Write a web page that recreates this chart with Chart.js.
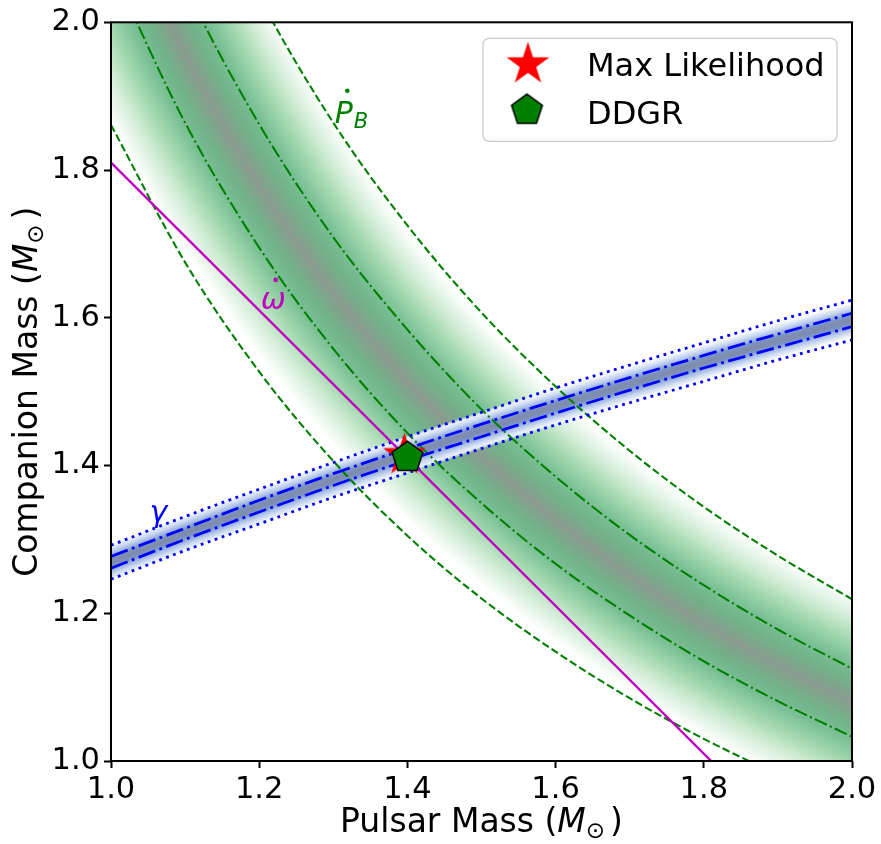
<!DOCTYPE html>
<html lang="en">
<head>
<meta charset="utf-8">
<title>Pulsar and companion mass constraints</title>
<script src="https://cdn.jsdelivr.net/npm/chart.js@4.4.1/dist/chart.umd.min.js"></script>
<style>
  html, body { margin: 0; padding: 0; background: #ffffff; }
  #massChart { display: block; }
</style>
</head>
<body>
<canvas id="massChart" width="881" height="844"></canvas>
<script>
// pulsar masses (M_sun) where the constraint curves are sampled
const pulsarMass = [1.0, 1.1, 1.2, 1.3, 1.4, 1.5, 1.6, 1.7, 1.8, 1.9, 2.0];

// orbital decay (Pdot_B): companion mass on the best curve, +-1 sigma and +-3 sigma
const pbdotBest = [2.181, 1.956, 1.779, 1.633, 1.513, 1.412, 1.326, 1.251, 1.186, 1.129, 1.079];
const pbdotHi1  = [2.289, 2.050, 1.862, 1.709, 1.584, 1.476, 1.385, 1.306, 1.238, 1.178, 1.125];
const pbdotLo1  = [2.075, 1.864, 1.695, 1.558, 1.444, 1.349, 1.267, 1.197, 1.135, 1.081, 1.033];
const pbdotHi3  = [2.510, 2.245, 2.035, 1.864, 1.725, 1.607, 1.507, 1.420, 1.344, 1.278, 1.219];
const pbdotLo3  = [1.861, 1.675, 1.527, 1.406, 1.305, 1.220, 1.148, 1.085, 1.030, 0.982, 0.939];

// Einstein delay (gamma): same layout
const gammaBest = [1.269, 1.308, 1.345, 1.381, 1.415, 1.448, 1.480, 1.510, 1.540, 1.569, 1.597];
const gammaHi1  = [1.277, 1.315, 1.353, 1.389, 1.423, 1.456, 1.488, 1.519, 1.549, 1.578, 1.606];
const gammaLo1  = [1.261, 1.300, 1.337, 1.373, 1.407, 1.439, 1.471, 1.502, 1.532, 1.560, 1.588];
const gammaHi3  = [1.292, 1.331, 1.368, 1.404, 1.439, 1.472, 1.505, 1.536, 1.566, 1.596, 1.624];
const gammaLo3  = [1.246, 1.285, 1.321, 1.357, 1.390, 1.423, 1.455, 1.485, 1.514, 1.543, 1.570];

// periastron advance (omega-dot): straight total-mass line
const omdotPulsar = [1.0, 1.81];
const omdotComp   = [1.81, 1.0];

// fitted masses
const maxLikePulsar = [1.396];
const maxLikeComp   = [1.414];
const ddgrPulsar    = [1.400];
const ddgrComp      = [1.411];

const massTicks = [1.0, 1.2, 1.4, 1.6, 1.8, 2.0];

const GREEN = '#008000';
const BLUE = '#0000ff';
const MAGENTA = '#bf00bf';
const FONT = '"DejaVu Sans"';

function pts(xs, ys) {
  return xs.map((m, i) => ({ x: m, y: ys[i] }));
}

// marker images (filled star, pentagon with black edge)
function makeStar(R, color) {
  const c = document.createElement('canvas');
  c.width = c.height = Math.ceil(2 * R + 4);
  const g = c.getContext('2d');
  g.translate(c.width / 2, c.height / 2);
  g.beginPath();
  for (let i = 0; i < 10; i++) {
    const r = i % 2 ? R * 0.382 : R;
    const a = -Math.PI / 2 + i * Math.PI / 5;
    g.lineTo(r * Math.cos(a), r * Math.sin(a));
  }
  g.closePath();
  g.fillStyle = color;
  g.fill();
  return c;
}

function makePentagon(R, color) {
  const c = document.createElement('canvas');
  c.width = c.height = Math.ceil(2 * R + 6);
  const g = c.getContext('2d');
  g.translate(c.width / 2, c.height / 2);
  g.beginPath();
  for (let i = 0; i < 5; i++) {
    const a = -Math.PI / 2 + i * 2 * Math.PI / 5;
    g.lineTo(R * Math.cos(a), R * Math.sin(a));
  }
  g.closePath();
  g.fillStyle = color;
  g.fill();
  g.lineWidth = 1.5;
  g.strokeStyle = '#000';
  g.lineJoin = 'miter';
  g.stroke();
  return c;
}

const starImg = makeStar(22.5, '#ff0000');
const pentImg = makePentagon(16.2, GREEN);

// colour profile across a likelihood band, d = distance from the best curve in sigma
function profileColour(stops, d) {
  for (let i = 1; i < stops.length; i++) {
    if (d <= stops[i][0]) {
      const [d0, c0] = stops[i - 1];
      const [d1, c1] = stops[i];
      const t = (d - d0) / (d1 - d0);
      const c = c0.map((v, j) => v + (c1[j] - v) * t);
      return 'rgba(' + Math.round(c[0]) + ',' + Math.round(c[1]) + ',' + Math.round(c[2]) + ',' + c[3].toFixed(3) + ')';
    }
  }
  const c = stops[stops.length - 1][1];
  return 'rgba(' + c[0] + ',' + c[1] + ',' + c[2] + ',' + c[3] + ')';
}

const greenStops = [
  [0.0,  [140, 154, 143, 1]],
  [0.25, [126, 166, 139, 1]],
  [0.6,  [114, 179, 139, 1]],
  [1.1,  [122, 192, 148, 1]],
  [1.7,  [163, 216, 175, 1]],
  [2.3,  [210, 237, 214, 1]],
  [3.0,  [255, 255, 255, 1]]
];
const blueStops = [
  [0.0, [128, 138, 168, 1]],
  [0.7, [124, 148, 196, 1]],
  [1.3, [160, 182, 226, 1]],
  [2.0, [204, 218, 244, 1]],
  [2.6, [234, 240, 251, 0.9]],
  [3.0, [255, 255, 255, 0.3]]
];

// a band is the best curve stroked many times, wide/pale first, narrow/dark last
function bandLayers(best, halfWidth, stops, steps, baseOrder) {
  const layers = [];
  for (let k = 0; k < steps; k++) {
    const outer = halfWidth * (steps - k) / steps;
    const inner = halfWidth * (steps - k - 1) / steps;
    const d = 3 * (outer + inner) / 2 / halfWidth;
    layers.push({
      type: 'line',
      label: '',
      data: pts(pulsarMass, best),
      borderColor: profileColour(stops, d),
      borderWidth: 2 * outer,
      borderCapStyle: 'square',
      borderJoinStyle: 'round',
      pointRadius: 0,
      cubicInterpolationMode: 'monotone',
      fill: false,
      clip: 0,
      order: baseOrder + steps - k
    });
  }
  return layers;
}

function curve(label, ys, color, width, dash) {
  return {
    type: 'line',
    label: label,
    data: pts(pulsarMass, ys),
    borderColor: color,
    borderWidth: width,
    borderDash: dash,
    borderCapStyle: 'butt',
    pointRadius: 0,
    cubicInterpolationMode: 'monotone',
    fill: false,
    clip: 0,
    order: 10
  };
}

const greenDash = [7.7, 3.3];
const greenDashDot = [13.3, 3.3, 2.1, 3.3];
const blueDot = [2.8, 4.6];
const blueDashDot = [17.8, 4.5, 2.8, 4.5];

const datasets = [
  { type: 'scatter', label: 'DDGR', data: pts(ddgrPulsar, ddgrComp), pointStyle: pentImg, pointRadius: 10, order: 0 },
  { type: 'scatter', label: 'Max Likelihood', data: pts(maxLikePulsar, maxLikeComp), pointStyle: starImg, pointRadius: 10, order: 1 },
  {
    type: 'line', label: 'omdot', data: pts(omdotPulsar, omdotComp),
    borderColor: MAGENTA, borderWidth: 2.4, pointRadius: 0, fill: false, clip: 0, order: 10
  },
  curve('gamma +1', gammaHi1, BLUE, 2.8, blueDashDot),
  curve('gamma -1', gammaLo1, BLUE, 2.8, blueDashDot),
  curve('gamma +3', gammaHi3, BLUE, 2.8, blueDot),
  curve('gamma -3', gammaLo3, BLUE, 2.8, blueDot),
  curve('pbdot +1', pbdotHi1, GREEN, 2.1, greenDashDot),
  curve('pbdot -1', pbdotLo1, GREEN, 2.1, greenDashDot),
  curve('pbdot +3', pbdotHi3, GREEN, 2.1, greenDash),
  curve('pbdot -3', pbdotLo3, GREEN, 2.1, greenDash),
  ...bandLayers(gammaBest, 17.5, blueStops, 14, 100),
  ...bandLayers(pbdotBest, 97, greenStops, 48, 200)
];

// helpers for mixed-font text (italic symbols, subscripts)
function richWidth(ctx, parts) {
  let w = 0;
  for (const p of parts) {
    ctx.font = p.font;
    w += ctx.measureText(p.text).width + (p.dx || 0);
  }
  return w;
}

function drawRich(ctx, parts, x, y) {
  let cx = x;
  for (const p of parts) {
    ctx.font = p.font;
    cx += p.dx || 0;
    ctx.fillText(p.text, cx, y + (p.dy || 0));
    cx += ctx.measureText(p.text).width;
  }
}

function dotAbove(ctx, x, y) {
  ctx.beginPath();
  ctx.arc(x, y, 2.3, 0, Math.PI * 2);
  ctx.fill();
}

const frame = {
  id: 'frame',
  afterDatasetsDraw(chart) {
    const { ctx, chartArea: a } = chart;
    ctx.save();
    ctx.strokeStyle = '#000';
    ctx.lineWidth = 2;
    ctx.strokeRect(a.left, a.top, a.right - a.left, a.bottom - a.top);
    ctx.restore();
  }
};

const curveLabels = {
  id: 'curveLabels',
  afterDatasetsDraw(chart) {
    const { ctx, scales: { x, y } } = chart;
    ctx.save();
    ctx.textAlign = 'left';
    ctx.textBaseline = 'alphabetic';

    // Pdot_B
    let px = x.getPixelForValue(1.302);
    let py = y.getPixelForValue(1.864);
    ctx.fillStyle = GREEN;
    ctx.font = 'italic 30px ' + FONT;
    ctx.fillText('P', px, py);
    const pw = ctx.measureText('P').width;
    dotAbove(ctx, px + 12.5, py - 32);
    ctx.font = 'italic 21px ' + FONT;
    ctx.fillText('B', px + pw + 1, py + 5);

    // omega-dot
    px = x.getPixelForValue(1.202);
    py = y.getPixelForValue(1.612);
    ctx.fillStyle = MAGENTA;
    ctx.font = 'italic 30px ' + FONT;
    ctx.fillText('\u03c9', px, py);
    dotAbove(ctx, px + 15, py - 29);

    // gamma
    px = x.getPixelForValue(1.052);
    py = y.getPixelForValue(1.3235);
    ctx.fillStyle = BLUE;
    ctx.fillText('\u03b3', px, py);
    ctx.restore();
  }
};

const legendBox = {
  id: 'legendBox',
  afterDraw(chart) {
    const { ctx, chartArea: a } = chart;
    const w = 354, h = 103;
    const x0 = a.right - 15 - w;
    const y0 = a.top + 16;
    ctx.save();
    ctx.beginPath();
    ctx.roundRect(x0, y0, w, h, 6);
    ctx.fillStyle = 'rgba(255,255,255,0.8)';
    ctx.fill();
    ctx.lineWidth = 1.3;
    ctx.strokeStyle = '#cccccc';
    ctx.stroke();

    ctx.drawImage(starImg, x0 + 45 - starImg.width / 2, y0 + 26 - starImg.height / 2);
    ctx.drawImage(pentImg, x0 + 44 - pentImg.width / 2, y0 + 72 - pentImg.height / 2);

    ctx.fillStyle = '#000';
    ctx.font = '32px ' + FONT;
    ctx.textAlign = 'left';
    ctx.textBaseline = 'alphabetic';
    ctx.fillText('Max Likelihood', x0 + 104, y0 + 38);
    ctx.fillText('DDGR', x0 + 104, y0 + 86);
    ctx.restore();
  }
};

const axisTitles = {
  id: 'axisTitles',
  afterDraw(chart) {
    const { ctx, chartArea: a } = chart;
    const title = (name) => [
      { text: name + ' (', font: '33px ' + FONT },
      { text: 'M', font: 'italic 33px ' + FONT },
      { text: '\u2299', font: '23px ' + FONT, dy: 6 },
      { text: ')', font: '33px ' + FONT, dx: 5 }
    ];
    ctx.save();
    ctx.fillStyle = '#000';
    ctx.textAlign = 'left';
    ctx.textBaseline = 'alphabetic';
    const xt = title('Pulsar Mass');
    drawRich(ctx, xt, (a.left + a.right) / 2 - richWidth(ctx, xt) / 2, a.bottom + 71);
    const yt = title('Companion Mass');
    ctx.translate(a.left - 74, (a.top + a.bottom) / 2);
    ctx.rotate(-Math.PI / 2);
    drawRich(ctx, yt, -richWidth(ctx, yt) / 2, 0);
    ctx.restore();
  }
};

function massAxis(widthOrHeight, isX) {
  return {
    type: 'linear',
    min: 1.0,
    max: 2.0,
    afterBuildTicks(scale) {
      scale.ticks = massTicks.map(v => ({ value: v }));
    },
    afterFit(scale) {
      if (isX) scale.height = widthOrHeight;
      else scale.width = widthOrHeight;
    },
    border: { display: false },
    grid: {
      display: true,
      drawOnChartArea: false,
      drawTicks: true,
      tickLength: 7,
      tickWidth: 2,
      tickColor: '#000'
    },
    ticks: {
      color: '#000',
      font: { family: 'DejaVu Sans', size: 30.5 },
      padding: 4,
      maxRotation: 0,
      autoSkip: false,
      callback: v => Number(v).toFixed(1)
    },
    title: { display: false }
  };
}

Chart.defaults.font.family = 'DejaVu Sans';

new Chart(document.getElementById('massChart'), {
  type: 'line',
  data: { datasets: datasets },
  options: {
    responsive: false,
    devicePixelRatio: 1,
    animation: false,
    events: [],
    layout: { padding: { left: 0, right: 29, top: 19, bottom: 0 } },
    elements: { line: { capBezierPoints: false } },
    plugins: {
      legend: { display: false },
      tooltip: { enabled: false },
      title: { display: false }
    },
    scales: {
      x: massAxis(83, true),
      y: massAxis(111, false)
    }
  },
  plugins: [frame, curveLabels, legendBox, axisTitles]
});
</script>
</body>
</html>
